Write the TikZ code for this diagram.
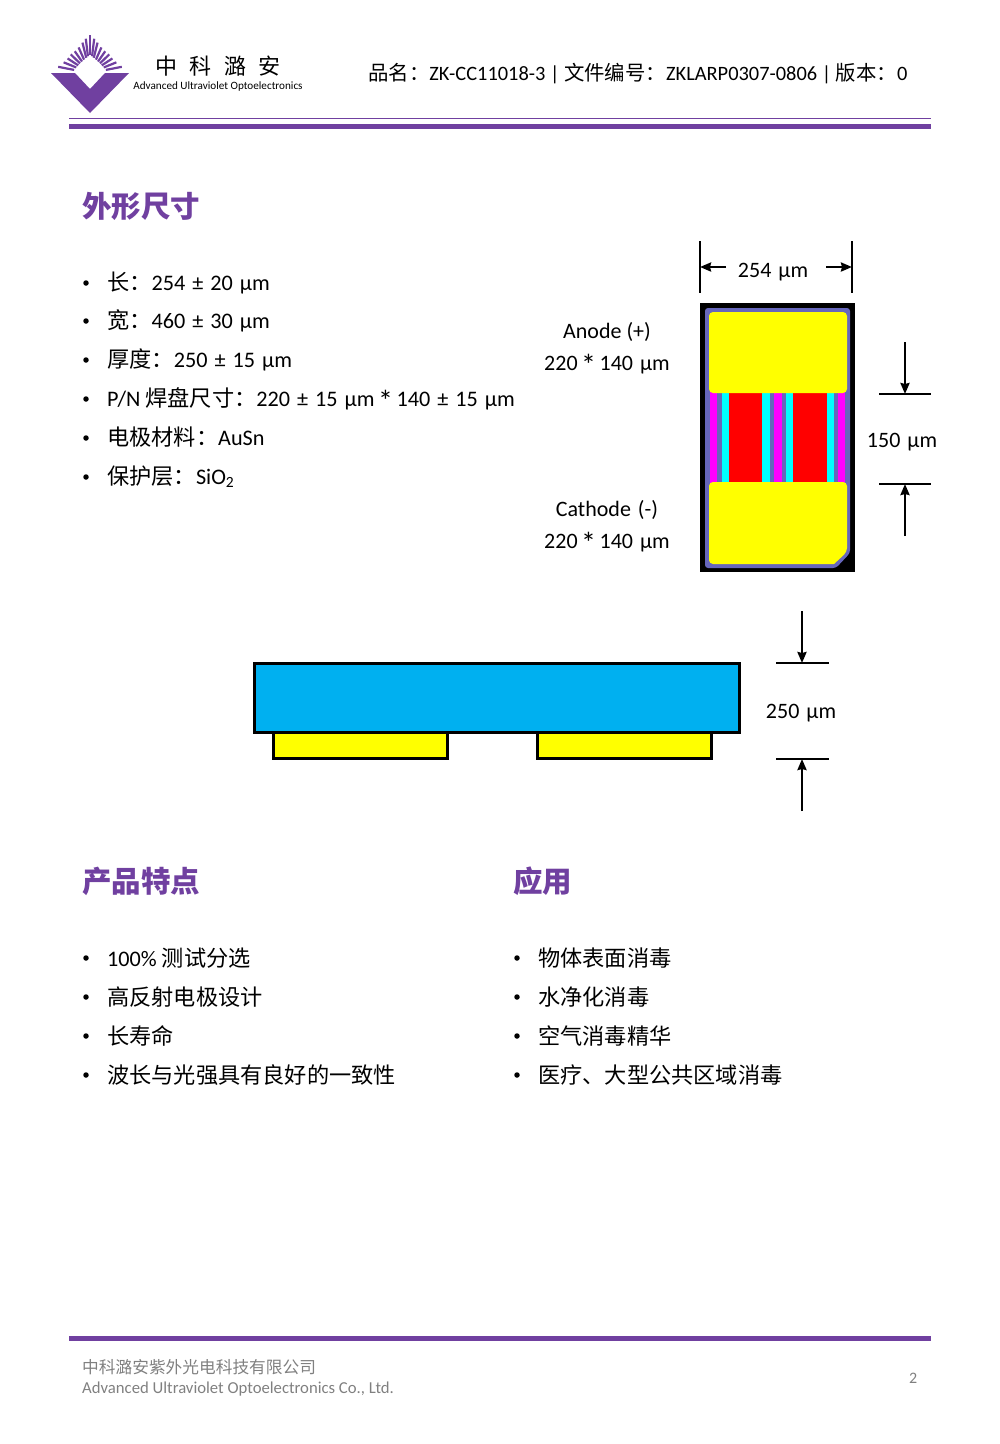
\documentclass[tikz,border=0pt]{standalone}
\usepackage{fontspec}
\setmainfont{Carlito}
\newfontfamily\cjk{Noto Sans CJK SC}
\newcommand{\zh}[1]{{\cjk #1}}
\newcommand{\um}[1]{{\spaceskip=7pt #1}}
\newcommand{\bigast}{\hspace{-3.5pt}{\fontsize{30}{30}\selectfont\raisebox{-5pt}{*}}\hspace{-3.5pt}}
\usetikzlibrary{arrows.meta}
\definecolor{brandpurple}{HTML}{7040A0}
\definecolor{chipblue}{HTML}{6666BB}
\definecolor{sideblue}{HTML}{00B0F0}
\definecolor{padyellow}{HTML}{FFFF00}
\definecolor{stripmagenta}{HTML}{FF00FF}
\definecolor{stripcyan}{HTML}{00FFFF}
\definecolor{stripred}{HTML}{FF0000}
\tikzset{
    body/.style={anchor=base west, inner sep=0pt, font=\fontsize{22.2}{26}\selectfont},
    head/.style={anchor=base west, inner sep=0pt, text=brandpurple, font=\fontsize{29.5}{34}\selectfont\bfseries},
    foot/.style={anchor=base west, inner sep=0pt, text=gray, font=\fontsize{16.7}{20}\selectfont},
    dot/.style={circle, fill=black, inner sep=0pt, minimum size=5.5pt},
    dimtext/.style={inner sep=0pt, font=\fontsize{22}{26}\selectfont},
    dimbar/.style={line width=2.4pt},
    dimarrow/.style={line width=2.4pt, -{Stealth[length=11pt,width=9pt,inset=1pt]}},
    pad/.style={fill=padyellow, draw=black, line width=3pt}
}
\begin{document}
\begin{tikzpicture}[x=1pt, y=-1pt]
        \useasboundingbox (0,0) rectangle (1000,1444);

        % logo
        \foreach \ang/\len in {11/38,22/37,33/37,44/38,55/37,66/37,76/38,83/38.5,97/38.5,104/38,114/37,125/37,136/38,147/37,158/37,169/38}
            \draw[brandpurple, line width=2.2pt] ({90+(2.5+16/(abs(cos(\ang))+abs(sin(\ang))))*cos(\ang)},{73-(2.5+16/(abs(cos(\ang))+abs(sin(\ang))))*sin(\ang)}) -- ({90+\len/(abs(cos(\ang))+abs(sin(\ang)))*cos(\ang)},{73-\len/(abs(cos(\ang))+abs(sin(\ang)))*sin(\ang)});
        \draw[brandpurple, line width=2.6pt] (90,55) -- (90,35);
        \fill[brandpurple] (51,73) -- (75,73) -- (90,89) -- (105,73) -- (129,73) -- (90,113) -- cycle;
        \node[inner sep=0pt, font=\fontsize{22}{26}\selectfont\cjk] (logozh) at (218,66) {中\hspace{12.5pt}科\hspace{12.5pt}潞\hspace{12.5pt}安};
        \node[inner sep=0pt, font=\fontsize{11.17}{14}\selectfont] (logoen) at (218,86.5) {Advanced Ultraviolet Optoelectronics};

        % header and footer
        \node[body, font=\fontsize{20.4}{26}\selectfont] (docinfo) at (368,80.5) {\zh{品名：}ZK-CC11018-3 | \zh{文件编号：}ZKLARP0307-0806 | \zh{版本：}0};
        \fill[brandpurple] (69,118) rectangle (931,119);
        \fill[brandpurple] (69,124) rectangle (931,129);
        \fill[brandpurple] (69,1336) rectangle (931,1341);
        \node[foot] (company) at (82,1373.5) {\zh{中科潞安紫外光电科技有限公司}};
        \node[foot] (companyen) at (82,1393) {Advanced Ultraviolet Optoelectronics Co., Ltd.};
        \node[foot, font=\fontsize{16}{20}\selectfont] (pageno) at (909,1383) {2};

        % size list
        \node[head] (sizehead) at (82,217) {\zh{外形尺寸}};
        \foreach \y/\name/\txt in {
            283/lenitem/{\zh{长：}\um{254 ± 20 µm}},
            321/widitem/{\zh{宽：}\um{460 ± 30 µm}},
            360/thkitem/{\zh{厚度：}\um{250 ± 15 µm}},
            399/paditem/{P/N \zh{焊盘尺寸：}\um{220 ± 15 µm \bigast{} 140 ± 15 µm}},
            438/matitem/{\zh{电极材料：}AuSn},
            477/coatitem/{\zh{保护层：}SiO\textsubscript{2}}} {
            \node[dot] (\name dot) at (86,\y) {};
            \node[body] (\name) at (107,\y+7) {\txt};
        }

        % chip, top view
        \fill[black] (700,303) rectangle (855,572);
        \fill[chipblue, rounded corners=3pt] (705,308) -- (850,308) -- (850,553) -- (836,568) -- (705,568) -- cycle;
        \foreach \xa/\xb/\col in {710/717/stripmagenta,722/729/stripcyan,729/762/stripred,762/770/stripcyan,774/782/stripmagenta,786/793/stripcyan,793/827/stripred,827/834/stripcyan,838/845/stripmagenta}
            \fill[\col] (\xa,390) rectangle (\xb,485);
        \fill[padyellow, rounded corners=4pt] (709,312) rectangle (847,393);
        \fill[padyellow, rounded corners=4pt] (709,482) -- (847,482) -- (847,552) [sharp corners] -- (834,564) [rounded corners=4pt] -- (709,564) -- cycle;
        \node[dimtext] (anode) at (607,332) {Anode (+)};
        \node[dimtext] (anodesize) at (607,365) {\um{220 \bigast{} 140 µm}};
        \node[dimtext] (cathode) at (607,510) {\um{Cathode (-)}};
        \node[dimtext] (cathodesize) at (607,543) {\um{220 \bigast{} 140 µm}};

        % chip dimensions
        \coordinate (wl) at (700,267);
        \coordinate (wr) at (852,267);
        \coordinate (wlfrom) at (726,267);
        \coordinate (wrfrom) at (826,267);
        \node[dimtext] (wlabel) at (773,272.5) {\um{254 µm}};
        \draw[dimbar] (700,241) -- (700,293);
        \draw[dimbar] (852,241) -- (852,293);
        \draw[dimarrow] (wlfrom) -- (wl);
        \draw[dimarrow] (wrfrom) -- (wr);
        \coordinate (gt) at (905,394);
        \coordinate (gb) at (905,484);
        \coordinate (gtfrom) at (905,342);
        \coordinate (gbfrom) at (905,536);
        \node[dimtext] (glabel) at (902,442) {\um{150 µm}};
        \draw[dimbar] (879,394) -- (931,394);
        \draw[dimbar] (879,484) -- (931,484);
        \draw[dimarrow] (gtfrom) -- (gt);
        \draw[dimarrow] (gbfrom) -- (gb);

        % chip, side view
        \draw[pad] (273,732) rectangle (447,758);
        \draw[pad] (537,732) rectangle (711,758);
        \draw[fill=sideblue, draw=black, line width=3pt] (254,663) rectangle (739,732);
        \coordinate (tt) at (802,663);
        \coordinate (tb) at (802,759);
        \coordinate (ttfrom) at (802,611);
        \coordinate (tbfrom) at (802,811);
        \node[dimtext] (tlabel) at (801,713) {\um{250 µm}};
        \draw[dimbar] (776,663) -- (829,663);
        \draw[dimbar] (776,759) -- (829,759);
        \draw[dimarrow] (ttfrom) -- (tt);
        \draw[dimarrow] (tbfrom) -- (tb);

        % features and applications
        \node[head] (feathead) at (82,892) {\zh{产品特点}};
        \node[head] (apphead) at (513,892) {\zh{应用}};
        \foreach \y/\name/\txt in {
            958/feata/{100\% \zh{测试分选}},
            997/featb/{\zh{高反射电极设计}},
            1036/featc/{\zh{长寿命}},
            1075/featd/{\zh{波长与光强具有良好的一致性}}} {
            \node[dot] (\name dot) at (86,\y) {};
            \node[body] (\name) at (107,\y+8) {\txt};
        }
        \foreach \y/\name/\txt in {
            958/appa/{\zh{物体表面消毒}},
            997/appb/{\zh{水净化消毒}},
            1036/appc/{\zh{空气消毒精华}},
            1075/appd/{\zh{医疗、大型公共区域消毒}}} {
            \node[dot] (\name dot) at (517,\y) {};
            \node[body] (\name) at (538,\y+8) {\txt};
        }
\end{tikzpicture}
\end{document}
